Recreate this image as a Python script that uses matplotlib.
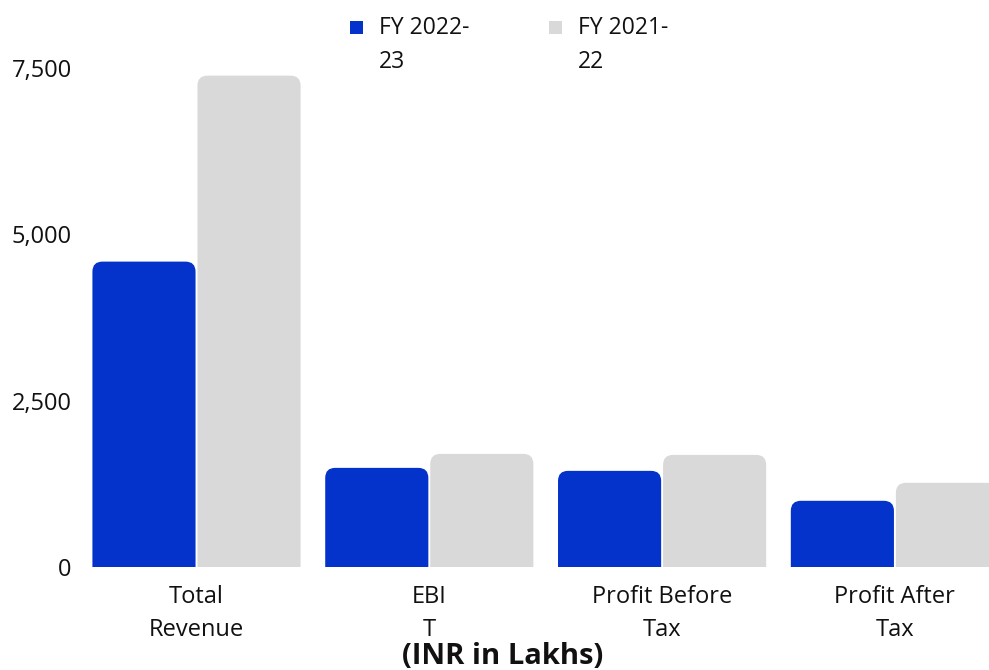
import numpy as np
import matplotlib
matplotlib.use("Agg")
import matplotlib.pyplot as plt
from matplotlib.patches import FancyBboxPatch, Rectangle

categories = ["Total\nRevenue", "EBI\nT", "Profit Before\nTax", "Profit After\nTax"]
series_names = ["FY 2022-\n23", "FY 2021-\n22"]
fy2023 = [4590, 1490, 1445, 995]
fy2022 = [7385, 1700, 1685, 1265]
yticks = [0, 2500, 5000, 7500]
ytick_labels = ["0", "2,500", "5,000", "7,500"]
colors = ["#0433cc", "#d9d9d9"]
title = "(INR in Lakhs)"

plt.rcParams['font.family'] = ['Open Sans', 'DejaVu Sans']
TXT = "#111111"

W, H = 989, 670
fig = plt.figure(figsize=(W / 100, H / 100), dpi=100)
left_px, right_px, base_px, top_px = 80.1, 80.1 + 4 * 232.8, 567, 68
ax = fig.add_axes([left_px / W, (H - base_px) / H, (right_px - left_px) / W, (base_px - top_px) / H])
ax.set_xlim(-0.5, len(categories) - 0.5)
ax.set_ylim(0, 7500)

x = np.arange(len(categories))
w = 0.443
off = 0.2256
b1 = ax.bar(x - off, fy2023, w, color=colors[0])
b2 = ax.bar(x + off, fy2022, w, color=colors[1])

# rounded top corners
fig.canvas.draw()
px_x = ax.transData.transform((1, 0))[0] - ax.transData.transform((0, 0))[0]
px_y = ax.transData.transform((0, 1))[1] - ax.transData.transform((0, 0))[1]
r_px = 10
r = r_px / px_x
ma = px_x / px_y
extra = 30 / px_y
for cont, col in zip([b1, b2], colors):
    for rect in cont:
        rx, ry = rect.get_x(), rect.get_y()
        rw, rh = rect.get_width(), rect.get_height()
        rect.set_visible(False)
        p = FancyBboxPatch((rx, ry - extra), rw, rh + extra,
                           boxstyle=f"round,pad=0,rounding_size={r}",
                           mutation_aspect=ma, facecolor=col, edgecolor='none')
        ax.add_patch(p)

ax.set_xticks(x)
ax.set_xticklabels(categories, fontsize=17, linespacing=1.52, color=TXT)
ax.set_yticks(yticks)
ax.set_yticklabels(ytick_labels, fontsize=17, color=TXT)
ax.tick_params(axis='x', length=0, pad=13)
ax.tick_params(axis='y', length=0, pad=6)
for s in ax.spines.values():
    s.set_visible(False)

# legend (manual, top); baseline of the last line at y=68 px
sq_x = [350, 549]
for name, col, sx in zip(series_names, colors, sq_x):
    fig.add_artist(Rectangle((sx / W, 1 - 34 / H), 13 / W, 13 / H, transform=fig.transFigure,
                             facecolor=col, edgecolor='none'))
    fig.text((sx + 29) / W, 1 - 68 / H, name, ha='left', va='baseline', fontsize=16.5,
             linespacing=1.58, color=TXT)

fig.text(503 / W, 6 / H, title, ha='center', va='baseline', fontsize=21, fontweight='bold', color=TXT)

fig.savefig("out.png", dpi=100)
